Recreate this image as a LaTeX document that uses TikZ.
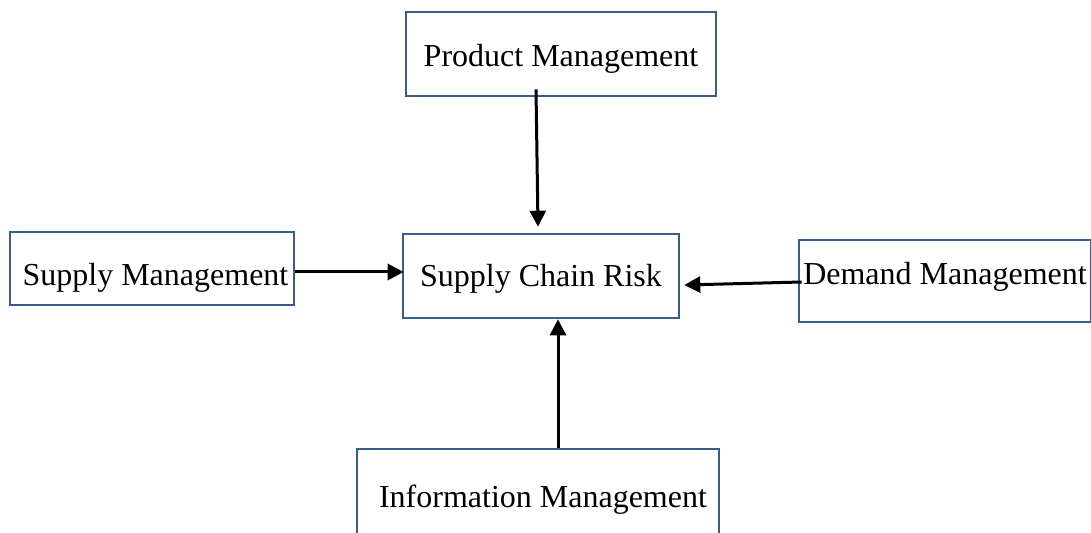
\documentclass[tikz,border=0pt]{standalone}
\usepackage{fontspec}
\setmainfont{Liberation Serif}
\usetikzlibrary{arrows.meta}
\definecolor{boxblue}{HTML}{385D8A}

\begin{document}
\begin{tikzpicture}[x=0.5pt,y=-0.5pt,
  mgmtbox/.style={draw=boxblue,line width=1.3pt,fill=white,inner sep=0pt,
    text depth=0pt,text height=11pt,font=\fontsize{16}{19}\selectfont},
  link/.style={draw=black,line width=1.5pt,-{Triangle[length=8pt,width=8pt]}}]
\clip (0.000000,0.000000) rectangle (1091.000000,533.000000);
\fill[white] (0.000000,0.000000) rectangle (1091.000000,533.000000);
% Drawing boxes
\node[mgmtbox,minimum width=155pt,minimum height=42pt,text height=12.5pt] (prod) at (561.000000,54.000000) {Product Management};
\node[mgmtbox,minimum width=142pt,minimum height=36.5pt,text height=17pt] (supply) at (152.000000,268.500000) {\hspace*{3.5pt}Supply Management};
\node[mgmtbox,minimum width=138pt,minimum height=42pt] (risk) at (541.000000,276.000000) {Supply Chain Risk};
\node[mgmtbox,minimum width=146pt,minimum height=41pt,text height=4pt] (demand) at (945.000000,281.000000) {Demand Management};
\node[mgmtbox,minimum width=181pt,minimum height=48pt] (info) at (538.000000,497.000000) {\hspace*{5pt}Information Management};
% Done with boxes; drawing arrows
\draw[link] ([xshift=-12.5pt,yshift=4pt]prod.south) -- ([xshift=-1.5pt,yshift=3pt]risk.north);
\draw[link] ([yshift=-1.75pt]supply.east) -- ([xshift=1pt,yshift=2pt]risk.west);
\draw[link] ([xshift=2pt,yshift=-0.5pt]demand.west) -- ([xshift=2pt,yshift=-4.5pt]risk.east);
\draw[link] ([xshift=10pt]info.north) -- ([xshift=8.5pt]risk.south);
% Done with arrows
\end{tikzpicture}
\end{document}
